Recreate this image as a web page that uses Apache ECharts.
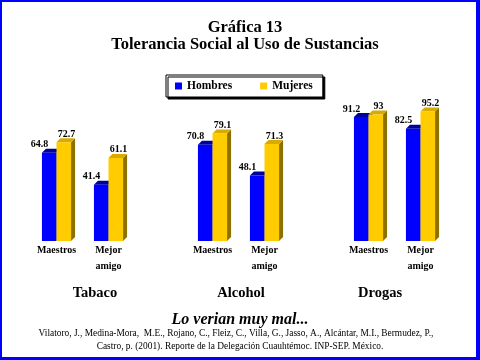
<!DOCTYPE html>
<html>
<head>
<meta charset="utf-8">
<script src="https://cdn.jsdelivr.net/npm/echarts@6/dist/echarts.min.js"></script>
<style>
  html, body { margin: 0; padding: 0; background: #fff; }
  #chart { position: absolute; left: 0; top: 0; width: 480px; height: 360px; }
  #frame { position: absolute; left: 0; top: 0; width: 480px; height: 360px; box-sizing: border-box;
           border-style: solid; border-color: #0000FF; border-width: 2px 4px 3px 2px; pointer-events: none; }
</style>
</head>
<body>
<div id="chart"></div>
<div id="frame"></div>
<script>
const titleLine1 = 'Gráfica 13';
const titleLine2 = 'Tolerancia Social al Uso de Sustancias';
const groups = ['Tabaco', 'Alcohol', 'Drogas'];
const subCategories = ['Maestros', 'Mejor amigo'];
const seriesNames = ['Hombres', 'Mujeres'];
const hombres = [64.8, 41.4, 70.8, 48.1, 91.2, 82.5];
const mujeres = [72.7, 61.1, 79.1, 71.3, 93, 95.2];
const subtitle = 'Lo verian muy mal...';
const citation1 = 'Vilatoro, J., Medina-Mora,  M.E., Rojano, C., Fleiz, C., Villa, G., Jasso, A., Alcántar, M.I., Bermudez, P.,';
const citation2 = 'Castro, p. (2001). Reporte de la Delegación Cuauhtémoc. INP-SEP. México.';

// axis categories: each group's sub-categories, with an empty spacer between groups
const axisCats = [];
groups.forEach((g, gi) => {
  subCategories.forEach(s => axisCats.push(s));
  if (gi < groups.length - 1) axisCats.push('');
});
function axisIndex(i) {
  const per = subCategories.length;
  return Math.floor(i / per) * (per + 1) + (i % per);
}
const hData = hombres.map((v, i) => [axisIndex(i), v]);
const mData = mujeres.map((v, i) => [axisIndex(i), v]);

const SERIF = '"Liberation Serif", "Times New Roman", serif';
const palette = [
  { front: '#0000FF', top: '#00009A', side: '#00007A' },
  { front: '#FFCC00', top: '#D9AA00', side: '#8C7000' }
];

function render3D(params, api) {
  const idx = api.value(0), val = api.value(1);
  const top = api.coord([idx, val]);
  const base = api.coord([idx, 0]);
  const band = api.size([1, 0])[0];
  const w = band * 0.28;
  const dx = 4, dy = -4;
  const si = params.seriesIndex;
  const c = top[0];
  const x0 = si === 0 ? c - w : c;
  const x1 = x0 + w;
  const y0 = top[1], yb = base[1];
  const col = palette[si];
  return {
    type: 'group',
    children: [
      { type: 'polygon', shape: { points: [[x1, y0], [x1 + dx, y0 + dy], [x1 + dx, yb + dy], [x1, yb]] },
        style: { fill: col.side } },
      { type: 'polygon', shape: { points: [[x0, y0], [x1, y0], [x1 + dx, y0 + dy], [x0 + dx, y0 + dy]] },
        style: { fill: col.top } },
      { type: 'rect', shape: { x: x0, y: y0, width: w, height: yb - y0 },
        style: { fill: col.front } },
      { type: 'text', style: {
          text: String(val), x: si === 0 ? c - 17 : c + 10, y: y0 - 8,
          align: 'center', verticalAlign: 'middle',
          font: 'bold 10px ' + SERIF, fill: '#000' } }
    ]
  };
}

const chart = echarts.init(document.getElementById('chart'), null, { renderer: 'canvas' });
const textEl = (text, x, y, font, align) => ({
  type: 'text', x: x, y: y,
  style: { text: text, font: font, fill: '#000', align: align || 'center', verticalAlign: 'middle' }
});
const groupX = [95, 241, 380];

chart.setOption({
  backgroundColor: '#fff',
  animation: false,
  grid: { left: 30.5, width: 416, top: 105, height: 136 },
  legend: {
    data: seriesNames,
    left: 166, top: 75,
    padding: [5, 10, 5, 9],
    itemWidth: 7, itemHeight: 7, itemGap: 28,
    icon: 'rect',
    backgroundColor: '#fff',
    borderColor: '#000', borderWidth: 1,
    shadowColor: '#000', shadowOffsetX: 2, shadowOffsetY: 2, shadowBlur: 0,
    textStyle: { fontFamily: SERIF, fontWeight: 'bold', fontSize: 11.5, color: '#000' }
  },
  xAxis: {
    type: 'category', data: axisCats,
    axisLine: { show: false }, axisTick: { show: false },
    axisLabel: {
      interval: 0, margin: 1, lineHeight: 16,
      fontFamily: SERIF, fontWeight: 'bold', fontSize: 10, color: '#000',
      formatter: v => v.replace(' ', '\n')
    }
  },
  yAxis: { type: 'value', min: 0, max: 100, show: false },
  series: [
    { name: seriesNames[0], type: 'custom', renderItem: render3D, data: hData, clip: false,
      itemStyle: { color: palette[0].front } },
    { name: seriesNames[1], type: 'custom', renderItem: render3D, data: mData, clip: false,
      itemStyle: { color: palette[1].front } }
  ],
  graphic: [
    textEl(titleLine1, 245, 28, 'bold 16.5px ' + SERIF),
    textEl(titleLine2, 245, 45, 'bold 16.5px ' + SERIF),
    ...groups.map((g, i) => textEl(g, groupX[i], 293, 'bold 14.5px ' + SERIF)),
    textEl(subtitle, 240, 320, 'italic bold 16px ' + SERIF),
    textEl(citation1, 236, 334, '9.4px ' + SERIF),
    textEl(citation2, 240, 347, '9.4px ' + SERIF)
  ]
});
</script>
</body>
</html>
